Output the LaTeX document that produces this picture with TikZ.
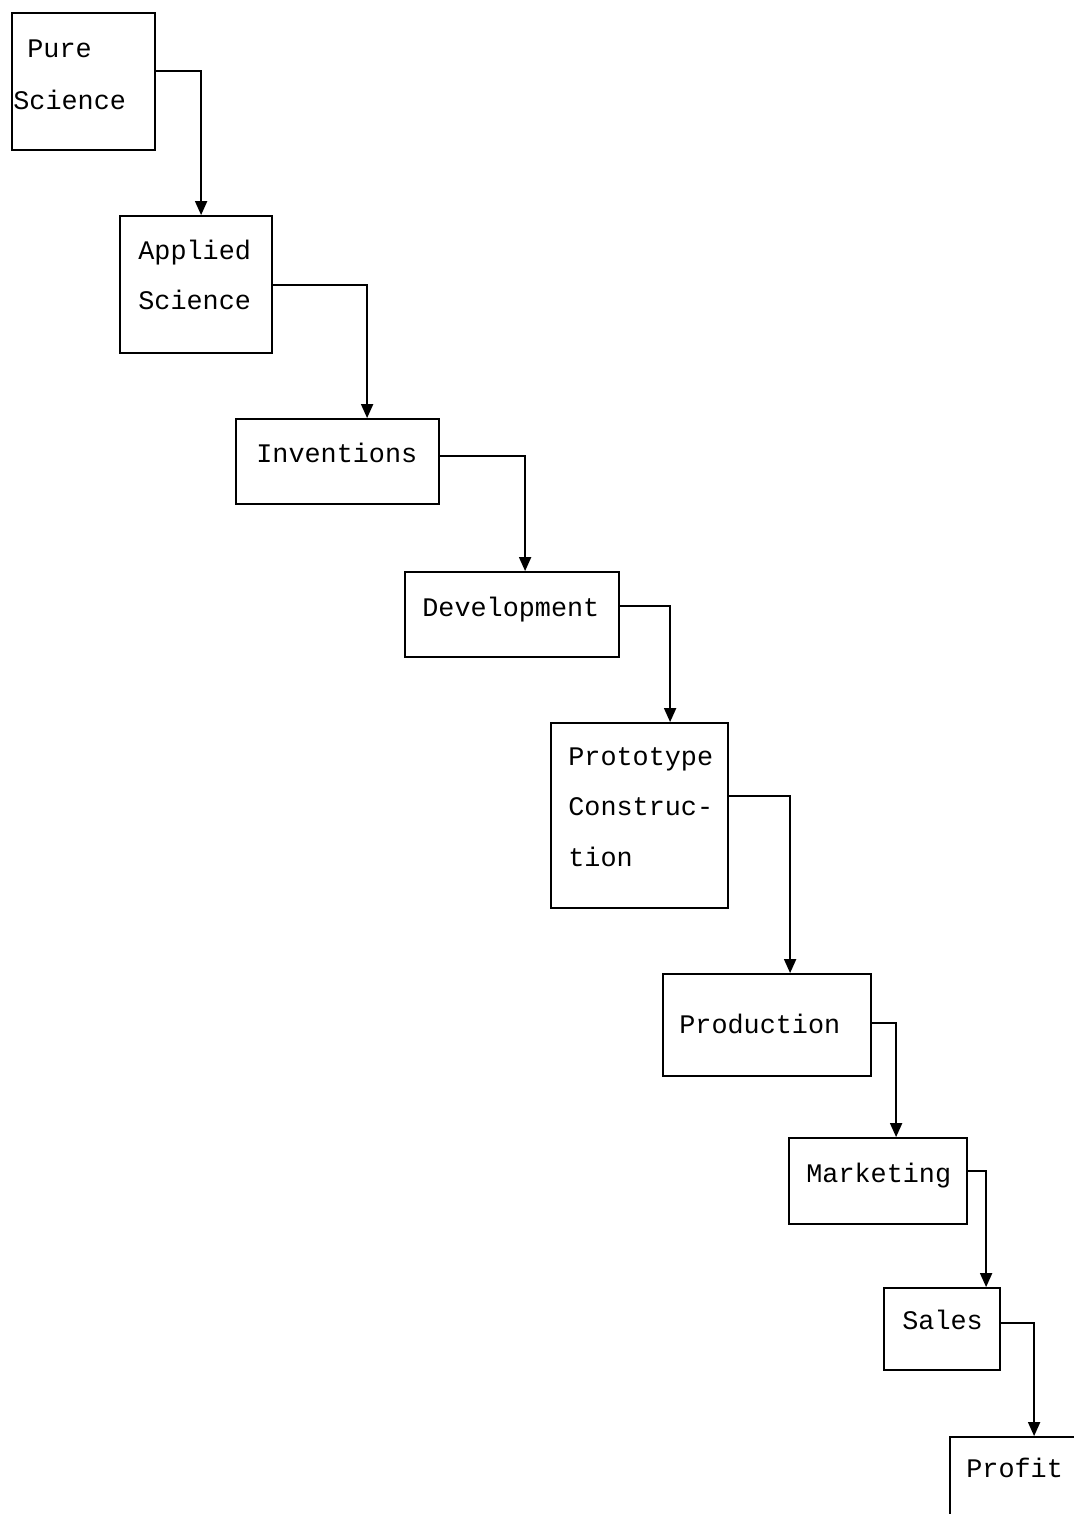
\documentclass[tikz,border=0pt]{standalone}
\usepackage{fontspec}
\newfontfamily\plotfont{Liberation Mono}
\usetikzlibrary{arrows.meta,calc,fit}
\begin{document}
\begin{tikzpicture}[x=0.5pt,y=-0.5pt,
  box/.style={draw, line width=0.9pt, inner sep=0pt},
  lbl/.style={anchor=base west, inner sep=0pt, font=\plotfont\fontsize{13.4}{16}\selectfont},
  flow/.style={draw, line width=0.9pt, -{Triangle[width=6pt,length=7pt]}},
]
\useasboundingbox[fill=white] (0,0) rectangle (1074,1514);
\clip (0,0) rectangle (1074,1514);

% stages of the chain
\node[box, fit={(12,13) (155,150)}] (ps) {};
\node[box, fit={(120,216) (272,353)}] (as) {};
\node[box, fit={(236,419) (439,504)}] (inv) {};
\node[box, fit={(405,572) (619,657)}] (dev) {};
\node[box, fit={(551,723) (728,908)}] (pc) {};
\node[box, fit={(663,974) (871,1076)}] (prod) {};
\node[box, fit={(789,1138) (967,1224)}] (mk) {};
\node[box, fit={(884,1288) (1000,1370)}] (sl) {};
\node[box, fit={(950,1437) (1140,1580)}] (pf) {};

% labels
\node[lbl] (psa) at (27,58) {Pure};
\node[lbl] (psb) at (13,110) {Science};
\node[lbl] (asa) at (138,259) {Applied};
\node[lbl] (asb) at (138,309) {Science};
\node[lbl] (invl) at (256,462) {Inventions};
\node[lbl] (devl) at (422,616) {Development};
\node[lbl] (pca) at (568,765) {Prototype};
\node[lbl] (pcb) at (568,815) {Construc-};
\node[lbl] (pcc) at (568,866) {tion};
\node[lbl] (prodl) at (679,1033) {Production};
\node[lbl] (mkl) at (806,1182) {Marketing};
\node[lbl] (sll) at (902,1329) {Sales};
\node[lbl] (pfl) at (966,1477) {Profit};

% connectors
\draw[flow] ($(ps.north east)+(0,59)$) -| ($(as.north west)+(82,0)$);
\draw[flow] ($(as.north east)+(0,70)$) -| ($(inv.north west)+(132,0)$);
\draw[flow] ($(inv.north east)+(0,38)$) -| ($(dev.north west)+(121,0)$);
\draw[flow] ($(dev.north east)+(0,35)$) -| ($(pc.north west)+(120,0)$);
\draw[flow] ($(pc.north east)+(0,74)$) -| ($(prod.north west)+(128,0)$);
\draw[flow] ($(prod.north east)+(0,50)$) -| ($(mk.north west)+(108,0)$);
\draw[flow] ($(mk.north east)+(0,34)$) -| ($(sl.north west)+(103,0)$);
\draw[flow] ($(sl.north east)+(0,36)$) -| ($(pf.north west)+(85,0)$);
\end{tikzpicture}
\end{document}
